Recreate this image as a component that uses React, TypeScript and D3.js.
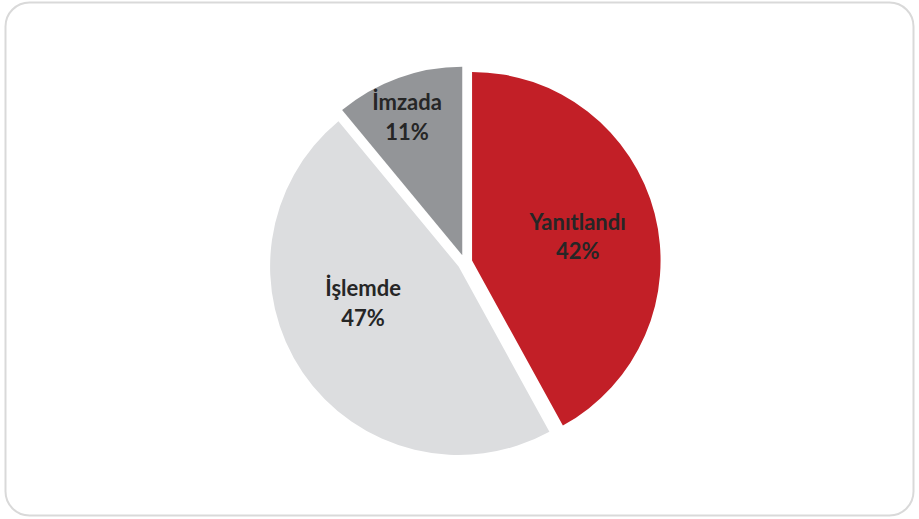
import React from "react";
import * as d3 from "d3";

const categories = ["Yanıtlandı", "İşlemde", "İmzada"];
const values = [42, 47, 11];
const percentLabels = ["42%", "47%", "11%"];
const colors = ["#C21F27", "#DCDDDF", "#939598"];

const W = 919;
const H = 519;

export default function App() {
  const cx = 464.8;
  const cy = 262.3;
  const r = 188.5;
  const explode = 7.5;
  const pie = d3.pie<number>().sort(null).value((d) => d)(values);
  const arc = d3.arc<d3.PieArcDatum<number>>().innerRadius(0).outerRadius(r);
  // label placement tweaks (angle offset in degrees, radius)
  const labelTweak = [
    { da: 5.3, rad: 107 },
    { da: 9.7, rad: 105 },
    { da: -3.1, rad: 142 },
  ];
  return (
    <svg
      width={W}
      height={H}
      style={{ position: "absolute", left: 0, top: 0, display: "block" }}
    >
      <rect x={0} y={0} width={W} height={H} fill="#ffffff" />
      <rect
        x={5.5}
        y={2.5}
        width={908}
        height={513}
        rx={24}
        ry={24}
        fill="#ffffff"
        stroke="#D9D9D9"
        strokeWidth={2}
      />
      {pie.map((p, i) => {
        const mid = (p.startAngle + p.endAngle) / 2;
        const ox = Math.sin(mid) * explode;
        const oy = -Math.cos(mid) * explode;
        const la = mid + (labelTweak[i].da * Math.PI) / 180;
        const lx = cx + ox + Math.sin(la) * labelTweak[i].rad;
        const ly = cy + oy - Math.cos(la) * labelTweak[i].rad;
        return (
          <g key={categories[i]}>
            <path
              d={arc(p) || ""}
              transform={`translate(${cx + ox},${cy + oy})`}
              fill={colors[i]}
            />
            <text
              x={lx}
              y={ly}
              textAnchor="middle"
              fontFamily="Lato, 'Open Sans', sans-serif"
              fontWeight={700}
              fontSize={22}
              fill="#262626"
            >
              <tspan x={lx} dy={-14}>
                {categories[i]}
              </tspan>
              <tspan x={lx} dy={29.5}>
                {percentLabels[i]}
              </tspan>
            </text>
          </g>
        );
      })}
    </svg>
  );
}
